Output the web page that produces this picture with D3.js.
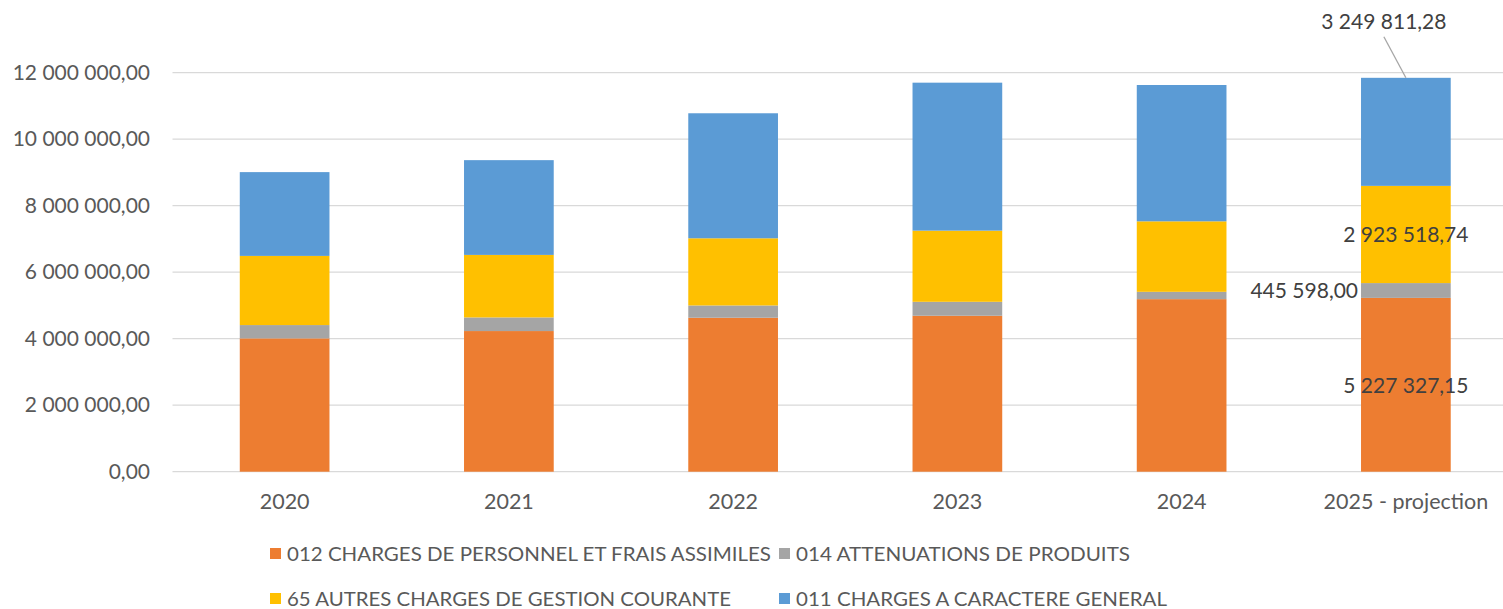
<!DOCTYPE html>
<html>
<head>
<meta charset="utf-8">
<script src="https://cdn.jsdelivr.net/npm/d3@7.9.0/dist/d3.min.js"></script>
<style>
  body { margin: 0; background: #fff; }
  svg { display: block; font-family: Lato, "Open Sans", sans-serif; }
</style>
</head>
<body>
<svg id="chart" width="1503" height="609"></svg>
<script>
// categories
const years = ["2020", "2021", "2022", "2023", "2024", "2025 - projection"];

// series (bottom to top of the stack)
const seriesNames = [
  "012 CHARGES DE PERSONNEL ET FRAIS ASSIMILES",
  "014 ATTENUATIONS DE PRODUITS",
  "65 AUTRES CHARGES DE GESTION COURANTE",
  "011 CHARGES A CARACTERE GENERAL"
];
const charges012 = [4010000, 4230000, 4630000, 4690000, 5190000, 5227327.15];
const attenuations014 = [400000, 410000, 370000, 420000, 220000, 445598.00];
const autres65 = [2080000, 1880000, 2020000, 2140000, 2120000, 2923518.74];
const general011 = [2520000, 2850000, 3760000, 4450000, 4100000, 3249811.28];
const seriesColors = ["#ED7D31", "#A5A5A5", "#FFC000", "#5B9BD5"];

const yTicks = [0, 2000000, 4000000, 6000000, 8000000, 10000000, 12000000];

const fr = d3.formatLocale({ decimal: ",", thousands: " ", grouping: [3], currency: ["", " €"] });
const fmt = fr.format(",.2f");

const rows = years.map((y, i) => ({
  year: y,
  [seriesNames[0]]: charges012[i],
  [seriesNames[1]]: attenuations014[i],
  [seriesNames[2]]: autres65[i],
  [seriesNames[3]]: general011[i]
}));

const stacked = d3.stack().keys(seriesNames)(rows);

const svg = d3.select("#chart");

const x = d3.scaleBand()
  .domain(years)
  .range([172.5, 1518])
  .paddingInner(0.6)
  .paddingOuter(0.3);

const y = d3.scaleLinear()
  .domain([0, 12000000])
  .range([471.7, 72.7]);

const color = d3.scaleOrdinal().domain(seriesNames).range(seriesColors);

// gridlines
svg.append("g")
  .selectAll("line")
  .data(yTicks)
  .join("line")
  .attr("x1", 172.5)
  .attr("x2", 1503)
  .attr("y1", d => y(d))
  .attr("y2", d => y(d))
  .attr("stroke", "#d9d9d9")
  .attr("stroke-width", 1.3);

// y axis labels
const yAxis = svg.append("g")
  .attr("transform", "translate(150,0)")
  .call(d3.axisLeft(y).tickValues(yTicks).tickFormat(fmt).tickSize(0).tickPadding(0));
yAxis.select(".domain").remove();
yAxis.selectAll("text")
  .attr("fill", "#595959")
  .style("font-size", "21px")
  .style("font-family", "Lato, 'Open Sans', sans-serif");

// x axis labels
const xAxis = svg.append("g")
  .attr("transform", "translate(0,471.7)")
  .call(d3.axisBottom(x).tickSize(0).tickPadding(22));
xAxis.select(".domain").remove();
xAxis.selectAll("text")
  .attr("fill", "#595959")
  .style("font-size", "21.5px")
  .style("font-family", "Lato, 'Open Sans', sans-serif");

// stacked bars
svg.append("g")
  .selectAll("g")
  .data(stacked)
  .join("g")
  .attr("fill", d => color(d.key))
  .selectAll("rect")
  .data(d => d)
  .join("rect")
  .attr("x", d => x(d.data.year))
  .attr("width", x.bandwidth())
  .attr("y", d => y(d[1]))
  .attr("height", d => y(d[0]) - y(d[1]));

// data labels on the projection bar
const last = years.length - 1;
const lastYear = years[last];
const cx = x(lastYear) + x.bandwidth() / 2;
const labels = svg.append("g")
  .attr("fill", "#404040")
  .style("font-size", "21px");

// 012 — centred in segment
labels.append("text")
  .attr("x", cx)
  .attr("y", (y(stacked[0][last][0]) + y(stacked[0][last][1])) / 2 + 8)
  .attr("text-anchor", "middle")
  .text(fmt(charges012[last]));

// 014 — left of the bar
labels.append("text")
  .attr("x", x(lastYear) - 3)
  .attr("y", (y(stacked[1][last][0]) + y(stacked[1][last][1])) / 2 + 8)
  .attr("text-anchor", "end")
  .text(fmt(attenuations014[last]));

// 65 — centred in segment
labels.append("text")
  .attr("x", cx)
  .attr("y", (y(stacked[2][last][0]) + y(stacked[2][last][1])) / 2 + 8)
  .attr("text-anchor", "middle")
  .text(fmt(autres65[last]));

// 011 — above with leader line
const topY = y(stacked[3][last][1]);
labels.append("text")
  .attr("x", cx - 22)
  .attr("y", topY - 49)
  .attr("text-anchor", "middle")
  .text(fmt(general011[last]));
svg.append("line")
  .attr("x1", cx - 22)
  .attr("y1", topY - 41)
  .attr("x2", cx)
  .attr("y2", topY)
  .attr("stroke", "#a6a6a6")
  .attr("stroke-width", 1.3);

// legend
const legendPos = [[270, 554], [779, 554], [270, 599], [779, 599]];
const legendWidths = [484, 334, 444, 371];
const legend = svg.append("g")
  .selectAll("g")
  .data(seriesNames)
  .join("g")
  .attr("transform", (d, i) => `translate(${legendPos[i][0]},${legendPos[i][1]})`);
legend.append("rect")
  .attr("x", 0)
  .attr("y", -6)
  .attr("width", 11)
  .attr("height", 11)
  .attr("fill", d => color(d));
legend.append("text")
  .attr("x", 17)
  .attr("y", 7)
  .attr("fill", "#595959")
  .style("font-size", "19px")
  .attr("textLength", (d, i) => legendWidths[i])
  .attr("lengthAdjust", "spacingAndGlyphs")
  .text(d => d);
</script>
</body>
</html>
